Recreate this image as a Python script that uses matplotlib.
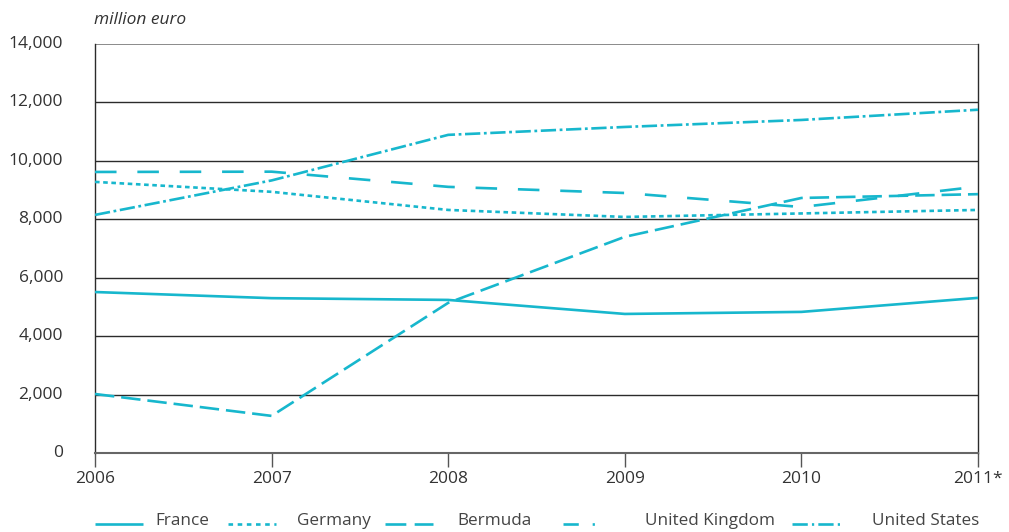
import matplotlib
matplotlib.use("Agg")
import matplotlib.pyplot as plt
from matplotlib.lines import Line2D

plt.rcParams['font.family'] = ['Open Sans', 'DejaVu Sans']
plt.rcParams['lines.scale_dashes'] = False

years = [2006, 2007, 2008, 2009, 2010, 2011]
year_labels = ["2006", "2007", "2008", "2009", "2010", "2011*"]

france = [5510, 5300, 5240, 4760, 4830, 5310]
germany = [9280, 8940, 8320, 8080, 8200, 8320]
bermuda = [9620, 9630, 9110, 8900, 8420, 9120]
united_kingdom = [2020, 1270, 5140, 7400, 8730, 8860]
united_states = [8150, 9330, 10890, 11160, 11400, 11750]

y_ticks = [0, 2000, 4000, 6000, 8000, 10000, 12000, 14000]

color = "#17b7cd"
lw = 1.9
# (name, values, line style in the plot, line style of the legend key)
series = [
    ("France", france, "-", "-"),
    ("Germany", germany, (0, (3.3, 2.6)), (0, (3.3, 3.3))),
    ("Bermuda", bermuda, (0, (15.5, 15.0)), (0, (15.0, 6.0))),
    ("United Kingdom", united_kingdom, (0, (14.0, 5.0)), (0, (11.0, 10.0, 1.6, 20.0))),
    ("United States", united_states, (0, (11.0, 2.6, 2.0, 2.6)), (0, (11.0, 3.0, 1.6, 3.0))),
]

fig = plt.figure(figsize=(10.09, 5.32), dpi=100)
ax = fig.add_axes([95 / 1009, 79 / 532, 883 / 1009, 409 / 532])

for y in y_ticks[1:-1]:
    ax.axhline(y, color="#2b2b2b", lw=1.0, zorder=1)
ax.axhline(14000, color="#777777", lw=1.2, zorder=1)

for name, vals, style, _ in series:
    ax.plot(years, vals, color=color, lw=lw, linestyle=style,
            solid_capstyle="butt", dash_capstyle="butt", zorder=3)

ax.set_xlim(2006, 2011)
ax.set_ylim(0, 14000)
ax.set_xticks(years)
ax.set_xticklabels(year_labels)
ax.set_yticks(y_ticks)
ax.set_yticklabels([f"{v:,}" for v in y_ticks])

ax.spines["top"].set_visible(False)
for side in ["left", "right"]:
    ax.spines[side].set_color("#2b2b2b")
    ax.spines[side].set_linewidth(1.0)
ax.spines["bottom"].set_color("#666666")
ax.spines["bottom"].set_linewidth(1.5)

ax.tick_params(axis="y", length=0, pad=23, labelsize=12.5, labelcolor="#333333")
ax.tick_params(axis="x", length=10, width=1.0, color="#555555", pad=3,
               labelsize=12.5, labelcolor="#333333")
for lbl in ax.get_yticklabels():
    lbl.set_verticalalignment("center")
ax.get_yticklabels()[0].set_y(0)

fig.text(94 / 1009, 1 - 20 / 532, "million euro", fontsize=12.5, style="italic",
         color="#333333", va="center", ha="left")

# legend row along the bottom of the figure
legend_y = 1 - 524 / 532
handle_x = [95, 228, 385, 563, 792]
text_x = [155, 297, 457, 645, 872]
for (name, vals, _, key_style), hx, tx in zip(series, handle_x, text_x):
    ln = Line2D([hx / 1009, (hx + 48) / 1009], [legend_y, legend_y],
                transform=fig.transFigure, color=color, lw=lw, linestyle=key_style,
                dash_capstyle="butt", solid_capstyle="butt")
    fig.add_artist(ln)
    fig.text(tx / 1009, 1 - 521 / 532, name, fontsize=12.3, color="#444444",
             va="center", ha="left")

fig.savefig("out.png", dpi=100)
